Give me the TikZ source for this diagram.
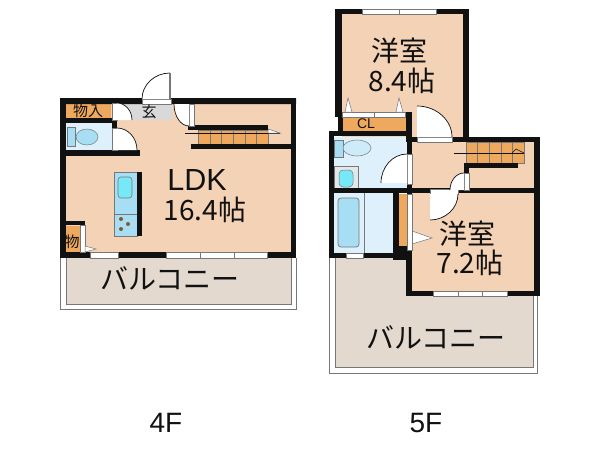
\documentclass[tikz,border=0pt]{standalone}
\usepackage{fontspec}
\setmainfont{Liberation Sans}
\newfontfamily\cjk{Noto Sans CJK JP}
\usetikzlibrary{calc}
\definecolor{peach}{HTML}{F3D2B5}
\definecolor{storage}{HTML}{EFA95E}
\definecolor{deck}{HTML}{E3D9CF}
\definecolor{wet}{HTML}{DDF0FB}
\definecolor{tubblue}{HTML}{A8DEF3}
\definecolor{lobby}{HTML}{D9D9D9}
\definecolor{wallcol}{HTML}{111111}
\definecolor{edgegray}{HTML}{777777}
\tikzset{
  wall/.style={fill=wallcol},
  floorpeach/.style={fill=peach},
  glass/.style={fill=white, draw=edgegray, line width=0.8pt},
  panel/.style={fill=white, draw=edgegray, line width=0.5pt},
  swing/.style={draw=wallcol, line width=0.7pt},
  fitting/.style={draw=edgegray, line width=0.7pt},
  bigtext/.style={inner sep=0pt, text=wallcol, font=\cjk\fontsize{28}{30}\selectfont},
  smalltext/.style={inner sep=0pt, text=wallcol, font=\cjk\fontsize{15}{17}\selectfont},
  floortext/.style={inner sep=0pt, text=wallcol, font=\fontsize{28}{30}\selectfont}
}
\newcommand{\doorleaf}[3]{
  \fill[white] (#1) -- (#2) .. controls ($(#2)+0.55*(#3)-0.55*(#1)$) and ($(#3)+0.55*(#2)-0.55*(#1)$) .. (#3) -- cycle;
  \draw[swing] (#2) .. controls ($(#2)+0.55*(#3)-0.55*(#1)$) and ($(#3)+0.55*(#2)-0.55*(#1)$) .. (#3);
}
\begin{document}
\begin{tikzpicture}[x=1pt, y=-1pt]
  \useasboundingbox (0,0) rectangle (600,450);
  \fill[white] (0,0) rectangle (600,450);

  \fill[floorpeach] (66,104) rectangle (291,252);
  \fill[deck] (66,258) rectangle (291,304);
  \draw[draw=edgegray, line width=0.9pt] (66,258) -- (66,304) -- (291,304) -- (291,258);
  \draw[draw=edgegray, line width=0.9pt] (60,258) -- (60,309) -- (296,309) -- (296,258);
  \fill[storage] (66,104) rectangle (111,118);
  \fill[lobby] (117,104) rectangle (172,120);
  \fill[wet] (66,123) rectangle (112,150);
  \fill[tubblue, draw=edgegray, line width=0.5pt] (67,127) rectangle (75,146);
  \filldraw[fill=tubblue, draw=edgegray, line width=0.5pt] (87,137) ellipse (11 and 8);
  \fill[storage] (66,226) rectangle (80,252);
  \fill[storage] (198,130) rectangle (268,144);
  \draw[draw=edgegray, line width=0.6pt] (198,130) rectangle (268,144) (210,130) -- (210,144) (221,130) -- (221,144) (233,130) -- (233,144) (245,130) -- (245,144) (256,130) -- (256,144);
  \draw[draw=wallcol, line width=0.6pt] (185,133) -- (280,133);
  \filldraw[fill=white, draw=edgegray, line width=0.5pt] (268,129) -- (280,133) -- (268,133) -- cycle;
  \filldraw[fill=tubblue, draw=edgegray, line width=0.6pt] (114,172) rectangle (137,236);
  \draw[draw=edgegray, line width=0.6pt] (114,214) -- (137,214);
  \filldraw[fill=tubblue!70!cyan, draw=edgegray, line width=0.6pt, rounded corners=3pt] (118,177) rectangle (132,198);
  \fill[brown!70!black] (121,219) circle (2) (128,224) circle (2) (121,229) circle (2);

  \fill[wall] (60,98) rectangle (142,104) (171,98) rectangle (296,104);
  \fill[wall] (60,98) rectangle (66,258);
  \fill[wall] (291,98) rectangle (296,258);
  \fill[wall] (60,252) rectangle (296,258);
  \fill[wall] (60,118) rectangle (117,123);
  \fill[wall] (112,118) rectangle (117,128);
  \fill[wall] (60,150) rectangle (140,156);
  \fill[wall] (188,125) rectangle (268,130);
  \fill[wall] (191,144) rectangle (291,149);
  \fill[wall] (137,172) rectangle (142,236);
  \fill[wall] (60,221) rectangle (85,225);

  \draw[glass] (142,99) rectangle (171,104);
  \draw[glass] (90,252) rectangle (118,258);
  \draw[glass] (166,252) rectangle (267,258) (200,252) -- (200,258) (234,252) -- (234,258);
  \draw[panel] (112,103) rectangle (117,120);
  \draw[panel] (112,128) rectangle (117,150);
  \draw[panel] (189,104) rectangle (194,126);
  \draw[panel] (80,225) rectangle (85,252);
  \filldraw[fill=white, draw=edgegray, line width=0.5pt] (85,246) -- (96,249) -- (85,252) -- cycle;
  \doorleaf{170,99}{170,73}{142,99}
  \draw[draw=edgegray, line width=1.2pt] (170,73) -- (170,99);
  \doorleaf{117,120}{117,103}{132,120}
  \doorleaf{117,150}{117,128}{137,150}
  \doorleaf{189,104}{189,126}{174,104}

  \fill[floorpeach] (342,14) rectangle (463,137);
  \fill[floorpeach] (412,142) rectangle (534,188);
  \fill[floorpeach] (412,193) rectangle (534,291);
  \fill[wet] (334,137) rectangle (407,188);
  \fill[wet] (334,193) rectangle (393,253);
  \fill[deck] (335,258) -- (406,258) -- (406,296) -- (533,296) -- (533,367) -- (335,367) -- cycle;
  \draw[draw=edgegray, line width=0.9pt] (335,258) -- (335,367) -- (533,367) -- (533,296);
  \draw[draw=edgegray, line width=0.9pt] (329,258) -- (329,373) -- (537,373) -- (537,296);
  \fill[storage] (343,117) rectangle (406,131);
  \fill[storage] (399,194) rectangle (407,246);
  \fill[storage] (466,142) rectangle (524,163);
  \draw[draw=edgegray, line width=0.6pt] (466,142) rectangle (524,163) (477,142) -- (477,163) (489,142) -- (489,163) (501,142) -- (501,163) (512,142) -- (512,163);
  \draw[draw=wallcol, line width=0.6pt] (454,153) -- (524,153);
  \draw[draw=wallcol, line width=0.5pt] (512,153) -- (516,149) -- (524,153);
  \filldraw[fill=tubblue, draw=edgegray, line width=0.5pt] (334,140) rectangle (343,157);
  \filldraw[fill=wet!70!tubblue, draw=edgegray, line width=0.5pt] (357,148) ellipse (14 and 8);
  \filldraw[fill=wet!60!gray!40!white, draw=edgegray, line width=0.5pt] (334,166) rectangle (358,188);
  \filldraw[fill=tubblue!70!cyan, draw=edgegray, line width=0.5pt, rounded corners=4pt] (339,170) rectangle (353,187);
  \filldraw[fill=tubblue, draw=edgegray, line width=0.7pt, rounded corners=3pt] (338,198) rectangle (359,247);
  \draw[draw=edgegray, line width=0.6pt] (364,193) -- (364,253);

  \fill[wall] (335,9) rectangle (469,14);
  \fill[wall] (335,9) rectangle (342,117);
  \fill[wall] (463,9) rectangle (469,142);
  \fill[wall] (338,117) rectangle (343,136);
  \fill[wall] (406,112) rectangle (412,142);
  \fill[wall] (329,131) rectangle (412,136);
  \fill[wall] (329,131) rectangle (334,258);
  \fill[wall] (407,137) rectangle (417,142);
  \fill[wall] (452,137) rectangle (540,142);
  \fill[wall] (534,137) rectangle (540,296);
  \fill[wall] (407,137) rectangle (412,258);
  \fill[wall] (329,188) rectangle (535,193);
  \fill[wall] (464,163) rectangle (518,168);
  \fill[wall] (464,163) rectangle (469,173);
  \fill[wall] (393,193) rectangle (399,258);
  \fill[wall] (393,246) rectangle (412,260);
  \fill[wall] (329,253) rectangle (406,258);
  \fill[wall] (406,246) rectangle (412,296);
  \fill[wall] (406,291) rectangle (540,296);

  \draw[glass] (362,9) rectangle (436,14) (399,9) -- (399,14);
  \draw[glass] (346,253) rectangle (363,258);
  \draw[glass] (433,291) rectangle (507,296) (458,291) -- (458,296) (482,291) -- (482,296);
  \draw[panel] (342,112) rectangle (405,117) (374,112) -- (374,117);
  \filldraw[fill=white, draw=edgegray, line width=0.5pt] (345,112) -- (348,98) -- (352,112) -- cycle;
  \filldraw[fill=white, draw=edgegray, line width=0.5pt] (396,112) -- (399,98) -- (403,112) -- cycle;
  \filldraw[fill=white, draw=edgegray, line width=0.5pt] (412,231) -- (432,238) -- (412,244) -- cycle;
  \draw[panel] (417,137) rectangle (452,142);
  \draw[panel] (407,154) rectangle (412,184);
  \draw[panel] (464,173) rectangle (469,190);
  \draw[panel] (430,189) rectangle (458,194);
  \draw[panel] (407,194) rectangle (412,250);
  \doorleaf{417,137}{417,106}{452,137}
  \doorleaf{407,183}{407,154}{381,183}
  \doorleaf{464,190}{464,173}{450,190}
  \doorleaf{430,194}{430,220}{458,194}

  \node[bigtext, font=\fontsize{30.5}{32}\selectfont] (ldk) at (197,180) {LDK};
  \node[bigtext] (ldkarea) at (205,210) {16.4帖};
  \node[bigtext] (balcony4) at (170,278) {バルコニー};
  \node[smalltext] (closet4) at (88,111) {物入};
  \node[smalltext] (entry) at (149,112) {玄};
  \node[smalltext] (shelf4) at (72,242) {物};
  \node[bigtext] (room8) at (399,51) {洋室};
  \node[bigtext] (room8area) at (402,81) {8.4帖};
  \node[smalltext, font=\fontsize{14}{16}\selectfont] (cl) at (366,124) {CL};
  \node[bigtext] (room7) at (467,234) {洋室};
  \node[bigtext] (room7area) at (470,263) {7.2帖};
  \node[bigtext] (balcony5) at (436,337) {バルコニー};
  \node[floortext] (floor4) at (166,423) {4F};
  \node[floortext] (floor5) at (426,423) {5F};
\end{tikzpicture}
\end{document}
